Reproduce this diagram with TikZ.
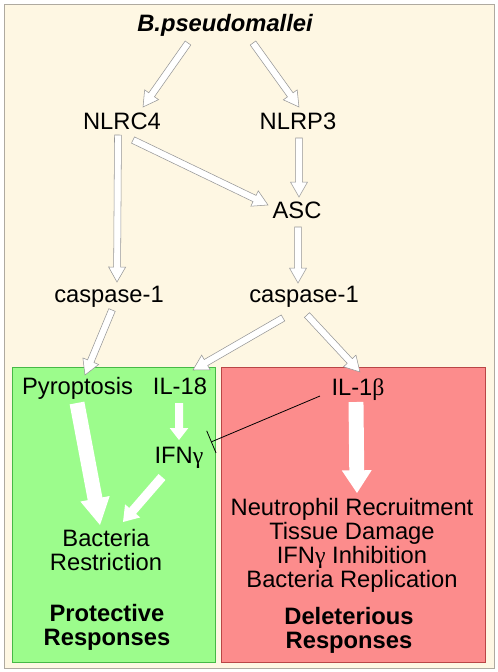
\documentclass[tikz,border=0pt]{standalone}
\usepackage{fontspec}
\setmainfont{Liberation Sans}
\newfontfamily\grk{Liberation Serif}
\usetikzlibrary{calc,arrows.meta}

\definecolor{cream}{RGB}{254,247,227}
\definecolor{protgreen}{RGB}{156,252,140}
\definecolor{delred}{RGB}{252,140,140}
\definecolor{framegray}{RGB}{175,170,160}
\definecolor{arrowgray}{RGB}{150,150,150}
\newcommand\lblfont{\fontsize{17.8}{18}\selectfont}

\tikzset{
  shaftw/.store in=\shaftw, headw/.store in=\headw, headlen/.store in=\headl,
  shaftw=2.6pt, headw=6.4pt, headlen=11.2pt,
  % hollow block arrow from tail point to tip point
  flow/.style={draw=arrowgray, line width=0.4pt, fill=white, to path={
    let \p1=(\tikztostart), \p2=(\tikztotarget),
        \n1={atan2(\y2-\y1,\x2-\x1)}, \n2={veclen(\x2-\x1,\y2-\y1)} in
    ([shift={(\p1)},rotate=\n1]0pt,-\shaftw)
    -- ([shift={(\p1)},rotate=\n1]\n2-\headl,-\shaftw)
    -- ([shift={(\p1)},rotate=\n1]\n2-\headl,-\headw)
    -- ([shift={(\p1)},rotate=\n1]\n2,0pt)
    -- ([shift={(\p1)},rotate=\n1]\n2-\headl,\headw)
    -- ([shift={(\p1)},rotate=\n1]\n2-\headl,\shaftw)
    -- ([shift={(\p1)},rotate=\n1]0pt,\shaftw) -- cycle}},
  flowin/.style={flow, draw=none},
  flowbig/.style={flowin, shaftw=5.6pt, headw=11.2pt, headlen=17pt},
  lbl/.style={font=\lblfont, inner sep=0pt, anchor=base},
  panel/.style={line width=0.6pt},
}

\begin{document}
\begin{tikzpicture}[x=0.75pt,y=-0.75pt]
\useasboundingbox (0,0) rectangle (498,672);

% Panels
\draw[panel, draw=framegray, fill=cream] (4,4) rectangle (494,668);
\draw[panel, draw=green!45!gray, fill=protgreen] (12,367) rectangle (215,662);
\draw[panel, draw=red!45!gray, fill=delred] (221,367) rectangle (485,662);

% Text Node
\node[lbl, font=\lblfont\bfseries\itshape] (bp) at (225,31.7) {B.pseudomallei};
% Text Node
\node[lbl] (nlrc4) at (122,129) {NLRC4};
% Text Node
\node[lbl] (nlrp3) at (298,129) {NLRP3};
% Text Node
\node[lbl] (asc) at (297,218) {ASC};
% Text Node
\node[lbl] (caspl) at (109,302) {caspase-1};
% Text Node
\node[lbl] (caspr) at (304,302) {caspase-1};
% Text Node
\node[lbl] (pyro) at (77.5,394) {Pyroptosis};
% Text Node
\node[lbl] (il18) at (180,394) {IL-18};
% Text Node
\node[lbl] (il1b) at (358,395) {IL-1{\grk β}};
% Text Node
\node[lbl] (ifng) at (179,463) {IFN{\grk γ}};
% Text Node
\node[lbl, align=center] (bact) at (106,570) {Bacteria\\Restriction};
% Text Node
\node[lbl, align=center] (effects) at (352,587) {Neutrophil Recruitment\\Tissue Damage\\IFN{\grk γ} Inhibition\\Bacteria Replication};
% Text Node
\node[lbl, font=\lblfont\bfseries, align=center] (prot) at (107,645.5) {Protective\\Responses};
% Text Node
\node[lbl, font=\lblfont\bfseries, align=center] (dele) at (349,648.5) {Deleterious\\Responses};

% Arrows
\draw[flow] ([shift={(-37,11.3)}]bp.base) to ([shift={(21,-22)}]nlrc4.base);
\draw[flow] ([shift={(28,11.3)}]bp.base) to ([shift={(1,-22)}]nlrp3.base);
\draw[flow] ([shift={(11,11)}]nlrc4.base) to ([shift={(-29,-13)}]asc.base);
\draw[flow] ([shift={(1,9)}]nlrp3.base) to ([shift={(2,-21)}]asc.base);
\draw[flow] ([shift={(-4,6)}]nlrc4.base) to ([shift={(8,-20)}]caspl.base);
\draw[flow] ([shift={(1,9)}]asc.base) to ([shift={(-6,-19)}]caspr.base);
\draw[flow] ([shift={(3,8)}]caspl.base) to ([shift={(7.5,-19)}]pyro.base);
\draw[flow] ([shift={(-21,16)}]caspr.base) to ([shift={(13,-24)}]il18.base);
\draw[flow] ([shift={(3,13)}]caspr.base) to ([shift={(2,-23)}]il1b.base);
\draw[flowin, shaftw=3pt, headw=7pt, headlen=9pt] ([shift={(-1,9)}]il18.base) to ([shift={(0,-23)}]ifng.base);
\draw[flowbig] ([shift={(-2,7)}]il1b.base) to ([shift={(5,-94)}]effects.base);
\draw[flowbig, headlen=20pt] ([shift={(-0.5,9)}]pyro.base) to ([shift={(-6,-45)}]bact.base);
\draw[flowin, shaftw=3.4pt, headw=7.5pt, headlen=11pt] ([shift={(-17,14)}]ifng.base) to ([shift={(17,-48)}]bact.base);

% Inhibition
\draw[line width=0.6pt, -{Bar[width=18pt]}] ([shift={(-38,1)}]il1b.base) -- ([shift={(32,-21)}]ifng.base);

\end{tikzpicture}
\end{document}
